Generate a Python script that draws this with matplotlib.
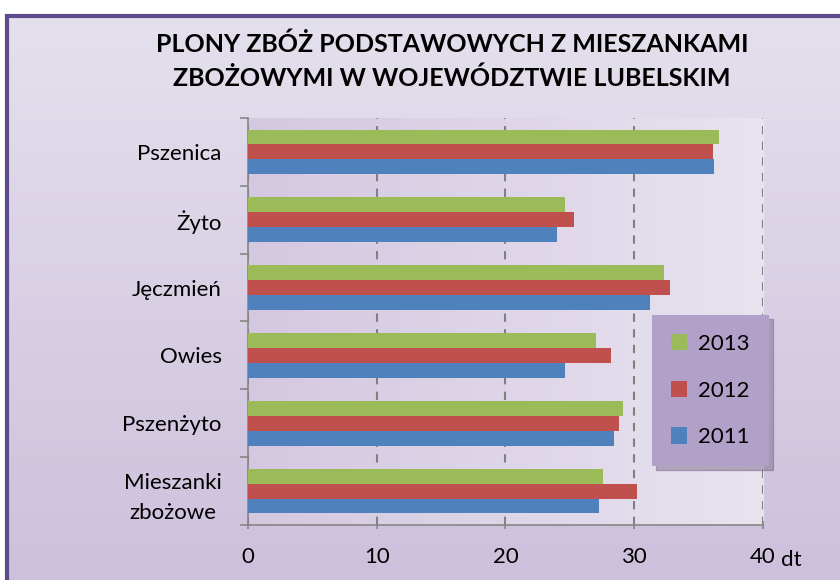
import matplotlib
matplotlib.use("Agg")
import matplotlib.pyplot as plt
import numpy as np
from matplotlib.patches import Rectangle

plt.rcParams['font.family'] = ['Lato', 'DejaVu Sans']

categories = ['Pszenica', 'Żyto', 'Jęczmień', 'Owies', 'Pszenżyto', 'Mieszanki\nzbożowe']
y2011 = [36.2, 24.0, 31.2, 24.6, 28.4, 27.3]
y2012 = [36.1, 25.3, 32.8, 28.2, 28.8, 30.2]
y2013 = [36.6, 24.6, 32.3, 27.0, 29.1, 27.6]
xticks = [0, 10, 20, 30, 40]

title = 'PLONY ZBÓŻ PODSTAWOWYCH Z MIESZANKAMI\nZBOŻOWYMI W WOJEWÓDZTWIE LUBELSKIM'

c2011 = '#4f81bd'
c2012 = '#c0504d'
c2013 = '#9bbb59'

fig = plt.figure(figsize=(8.4, 5.8), dpi=100)
fig.patch.set_facecolor('white')

# chart area background with a soft vertical gradient and a purple frame
bg = fig.add_axes([0.008, 0, 0.992, 0.972], zorder=-2)
grad = np.linspace(0, 1, 256).reshape(-1, 1)
cmap_bg = matplotlib.colors.LinearSegmentedColormap.from_list('bg', ['#e5e0ed', '#cdc0dc'])
bg.imshow(grad, aspect='auto', cmap=cmap_bg, extent=[0, 1, 0, 1], origin='upper')
bg.set_xlim(0, 1)
bg.set_ylim(0, 1)
bg.axis('off')
bg.add_patch(Rectangle((0, -0.1), 1.2, 1.1, fill=False, edgecolor='#5f4a8b', lw=3,
                       transform=bg.transAxes, clip_on=False))

ax = fig.add_axes([0.2952, 0.0948, 0.6131, 0.7018])
ax.set_facecolor('none')

# plot area gradient (darker on the left)
cmap_pa = matplotlib.colors.LinearSegmentedColormap.from_list('pa', ['#d4c8e1', '#e8e3ef'])
ax.imshow(np.linspace(0, 1, 256).reshape(1, -1), aspect='auto', cmap=cmap_pa,
          extent=[0, 40, 5.5, -0.5], zorder=0)

pos = np.arange(len(categories))
h = 0.22
ax.barh(pos - h, y2013, height=h, color=c2013, label='2013', zorder=3)
ax.barh(pos, y2012, height=h, color=c2012, label='2012', zorder=3)
ax.barh(pos + h, y2011, height=h, color=c2011, label='2011', zorder=3)

ax.set_xlim(0, 40)
ax.set_ylim(5.5, -0.5)
ax.set_xticks(xticks)
ax.set_xticklabels([str(t) for t in xticks], fontsize=16)
ax.set_yticks(pos)
ax.set_yticklabels(categories, fontsize=16, linespacing=1.6)
for lbl in ax.get_yticklabels():
    lbl.set_multialignment('center')
ax.set_yticks(np.arange(-0.5, 6, 1), minor=True)
ax.tick_params(axis='y', which='major', length=0, pad=19)
ax.tick_params(axis='y', which='minor', length=6, color='#868686', width=1.2)
ax.tick_params(axis='x', which='major', length=6, color='#868686', width=1.2,
               direction='inout', pad=13)

ax.grid(axis='x', color='#808080', linestyle=(0, (4, 3.5)), lw=1.5, zorder=1)
for s in ['top', 'right']:
    ax.spines[s].set_visible(False)
ax.spines['left'].set_color('#868686')
ax.spines['bottom'].set_color('#868686')
ax.spines['left'].set_linewidth(1.2)
ax.spines['bottom'].set_linewidth(1.2)

ax.text(1.035, -0.085, 'dt', transform=ax.transAxes, fontsize=16, ha='left', va='center')

leg = ax.legend(loc='upper left', bbox_to_anchor=(0.784, 0.516), fontsize=16,
                frameon=True, fancybox=False,
                shadow={'color': '#6d6080', 'alpha': 0.45, 'ox': 3, 'oy': -3},
                handlelength=0.75, handleheight=0.75, handletextpad=0.5,
                labelspacing=1.2, borderpad=0.85, borderaxespad=0)
leg.get_frame().set_facecolor('#b1a0c7')
leg.get_frame().set_edgecolor('none')
leg.get_frame().set_alpha(1)
leg.set_zorder(5)

fig.text(0.538, 0.895, title, ha='center', va='center', fontsize=18,
         fontweight='bold', linespacing=1.55)

fig.savefig('out.png', dpi=100)
